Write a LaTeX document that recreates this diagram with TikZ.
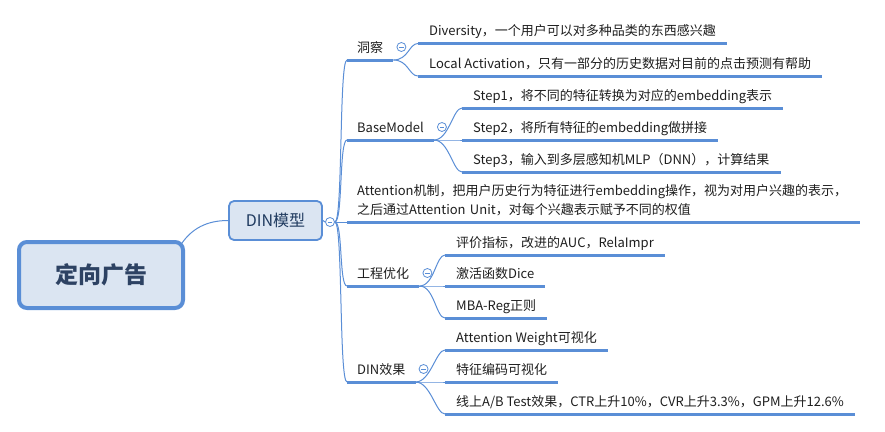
\documentclass[tikz,border=0pt]{standalone}
\usepackage{fontspec}
\setmainfont{Noto Sans CJK SC}
\definecolor{xblue}{HTML}{5A8ED6}
\definecolor{boxfill}{HTML}{DBE5F2}
\definecolor{roottext}{HTML}{2D4263}
\definecolor{dintext}{HTML}{1F3A5F}
\definecolor{ink}{HTML}{1E1E1E}
\tikzset{
  rootbox/.style={draw=xblue, fill=boxfill, line width=4pt, rounded corners=8pt,
    minimum width=164pt, minimum height=66pt, text=roottext,
    font=\fontsize{23}{26}\selectfont\bfseries},
  mainbox/.style={draw=xblue, fill=boxfill, line width=1.8pt, rounded corners=5pt,
    minimum width=93pt, minimum height=39pt, text=dintext,
    font=\fontsize{16}{19}\selectfont},
  topic/.style={anchor=south west, inner xsep=10pt, inner ysep=1.5pt,
    text height=10pt, text depth=6pt, text=ink, font=\fontsize{13}{19}\selectfont},
  leaf/.style={topic, inner xsep=11pt},
  uline/.style={draw=xblue, line width=3pt},
  link/.style={draw=xblue, line width=1pt},
  fold/.style={circle, draw=xblue, fill=white, line width=0.8pt, inner sep=0pt,
    minimum size=9pt, path picture={\draw[xblue, line width=0.8pt]
      ([xshift=-2.3pt]path picture bounding box.center) --
      ([xshift=2.3pt]path picture bounding box.center);}}
}
\begin{document}
\begin{tikzpicture}[x=1pt,y=-1pt]
\useasboundingbox (0,0) rectangle (885,431);
% central topics
\node[rootbox] (root) at (101,275) {定向广告};
\node[mainbox] (din) at (275.5,220.5) {DIN模型};
\node[fold] (f0) at (330,222) {};
% first level
\node[topic] (insight) at (347,60) {洞察};
\node[topic] (base) at (347,140) {BaseModel};
\node[topic, text width=493pt, align=left, text depth=25pt] (attn) at (347,222)
  {Attention机制，把用户历史行为特征进行embedding操作，视为对用户兴趣的表示，\\之后通过Attention Unit，对每个兴趣表示赋予不同的权值};
\node[topic] (eng) at (347,286) {工程优化};
\node[topic] (effect) at (347,382) {DIN效果};
\node[fold] (f1) at ([xshift=8pt,yshift=13pt]insight.south east) {};
\node[fold] (f2) at ([xshift=8pt,yshift=13pt]base.south east) {};
\node[fold] (f3) at ([xshift=8pt,yshift=13pt]eng.south east) {};
\node[fold] (f4) at ([xshift=8pt,yshift=13pt]effect.south east) {};
% leaves
\node[leaf] (div) at (418,43.5) {Diversity，一个用户可以对多种品类的东西感兴趣};
\node[leaf] (local) at (418,76) {Local Activation，只有一部分的历史数据对目前的点击预测有帮助};
\node[leaf] (step1) at (462,108) {Step1，将不同的特征转换为对应的embedding表示};
\node[leaf] (step2) at (462,140) {Step2，将所有特征的embedding做拼接};
\node[leaf] (step3) at (462,172) {Step3，输入到多层感知机MLP（DNN），计算结果};
\node[leaf] (auc) at (445,255) {评价指标，改进的AUC，RelaImpr};
\node[leaf] (dice) at (445,286) {激活函数Dice};
\node[leaf] (mba) at (445,318) {MBA-Reg正则};
\node[leaf] (weight) at (445,350) {Attention Weight可视化};
\node[leaf] (code) at (445,382) {特征编码可视化};
\node[leaf] (abtest) at (445,414) {线上A/B Test效果，CTR上升10\%，CVR上升3.3\%，GPM上升12.6\%};
% connectors
\draw[link] ([xshift=-3pt,yshift=-3pt]root.north east) .. controls +(10,-14) and +(-22,0) .. (din.west);
\draw[link] (din.east) -- (f0.west);
\draw[link] (f0.east) -- (attn.south west);
\foreach \t in {insight,base,eng,effect}
  \draw[link] (f0.east) .. controls +(8,0) and +(-8,0) .. (\t.south west);
\foreach \c in {div,local}
  \draw[link] (insight.south east) .. controls +(15,0) and +(-9,0) .. (\c.south west);
\foreach \c in {step1,step2,step3}
  \draw[link] (base.south east) .. controls +(15,0) and +(-9,0) .. (\c.south west);
\foreach \c in {auc,dice,mba}
  \draw[link] (eng.south east) .. controls +(15,0) and +(-9,0) .. (\c.south west);
\foreach \c in {weight,code,abtest}
  \draw[link] (effect.south east) .. controls +(15,0) and +(-9,0) .. (\c.south west);
% underlines
\foreach \n in {insight,base,attn,eng,effect,div,local,step1,step2,step3,auc,dice,mba,weight,code,abtest}
  \draw[uline] (\n.south west) -- (\n.south east);
\end{tikzpicture}
\end{document}
